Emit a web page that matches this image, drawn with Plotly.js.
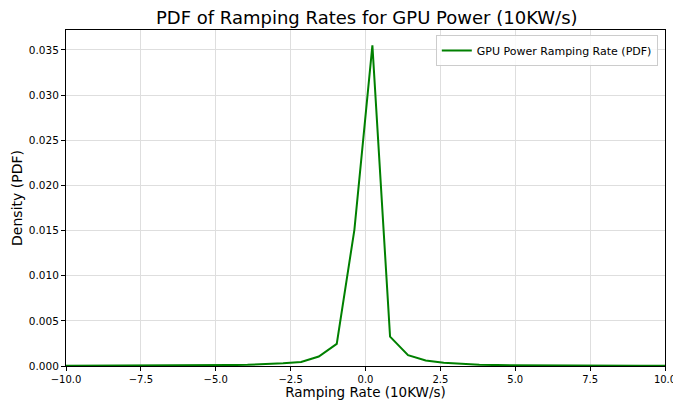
<!DOCTYPE html>
<html>
<head>
<meta charset="utf-8">
<script src="https://cdn.plot.ly/plotly-3.0.1.min.js"></script>
<style>html,body{margin:0;padding:0;background:#fff;}#chart{width:673px;height:400px;}</style>
</head>
<body>
<div id="chart"></div>
<script>
const rampRate = [-10.48, -9.89, -9.29, -8.70, -8.10, -7.51, -6.91, -6.32, -5.72, -5.13, -4.53, -3.94, -3.34, -2.75, -2.15, -1.56, -0.96, -0.37, 0.23, 0.82, 1.42, 2.01, 2.61, 3.20, 3.80, 4.39, 4.99, 5.58, 6.18, 6.77, 7.37, 7.96, 8.56, 9.15, 9.75, 10.34];
const density = [0.00002, 0.00002, 0.00002, 0.00003, 0.00003, 0.00004, 0.00004, 0.00005, 0.00007, 0.00008, 0.0001, 0.00013, 0.0002, 0.0003, 0.00045, 0.00105, 0.00245, 0.0151, 0.0355, 0.00325, 0.0012, 0.0006, 0.00037, 0.00022, 0.00015, 0.0001, 0.00008, 0.00006, 0.00005, 0.00004, 0.00003, 0.00003, 0.00002, 0.00002, 0.00002, 0.00002];
const xTicks = [-10, -7.5, -5, -2.5, 0, 2.5, 5, 7.5, 10];
const yTicks = [0, 0.005, 0.01, 0.015, 0.02, 0.025, 0.03, 0.035];

const font = "DejaVu Sans, sans-serif";
Plotly.newPlot('chart', [{
  x: rampRate, y: density, type: 'scatter', mode: 'lines',
  name: 'GPU Power Ramping Rate (PDF)',
  line: {color: '#008000', width: 2}
}], {
  width: 673, height: 400,
  margin: {l: 66, r: 8, t: 30, b: 34, pad: 0},
  paper_bgcolor: '#fff', plot_bgcolor: '#fff',
  font: {family: font, color: '#000'},
  title: {text: 'PDF of Ramping Rates for GPU Power (10KW/s)', font: {size: 18, family: font}, x: 0.545, xanchor: 'center', y: 0.955, yanchor: 'middle'},
  xaxis: {
    range: [-10, 10], tickvals: xTicks, tickformat: '.1f',
    title: {text: 'Ramping Rate (10KW/s)', font: {size: 13.5}, standoff: 5},
    showgrid: true, gridcolor: '#dedede', gridwidth: 1,
    showline: true, linecolor: '#000', linewidth: 1, mirror: true,
    ticks: 'outside', ticklen: 3.5, tickcolor: '#000', tickfont: {size: 10},
    ticklabeloverflow: 'allow', zeroline: false
  },
  yaxis: {
    range: [0, 0.0372], tickvals: yTicks, tickformat: '.3f',
    title: {text: 'Density (PDF)', font: {size: 14}, standoff: 2},
    showgrid: true, gridcolor: '#dedede', gridwidth: 1,
    showline: true, linecolor: '#000', linewidth: 1, mirror: true,
    ticks: 'outside', ticklen: 4, tickcolor: '#000', tickfont: {size: 10.5},
    zeroline: false
  },
  showlegend: true,
  legend: {x: 0.988, y: 0.985, xanchor: 'right', yanchor: 'top', bgcolor: 'rgba(255,255,255,0.8)', bordercolor: '#cccccc', borderwidth: 1, font: {size: 11}}
}, {displayModeBar: false});
</script>
</body>
</html>
